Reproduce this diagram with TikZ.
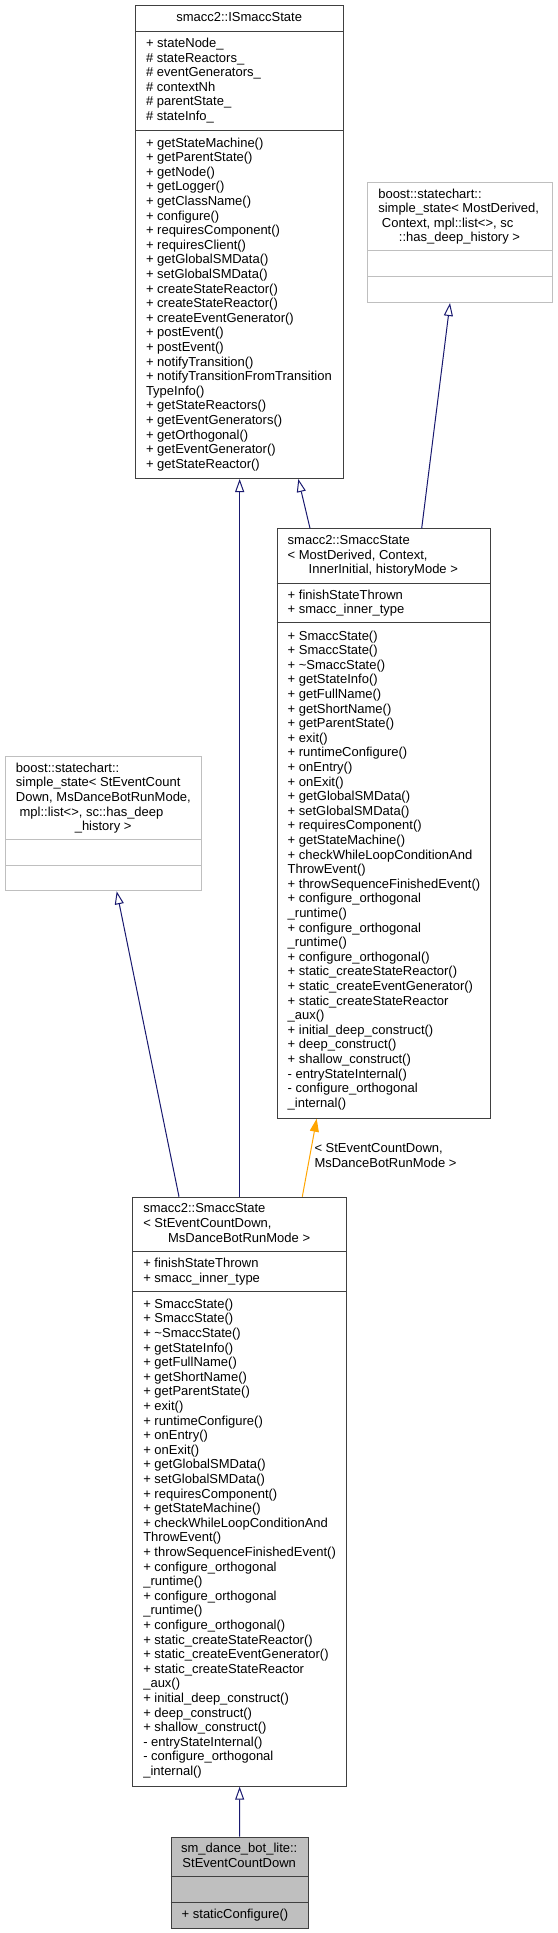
\documentclass[tikz,border=0pt]{standalone}
\usepackage{fontspec}
\setmainfont{Liberation Sans}
\usetikzlibrary{arrows.meta}
\definecolor{boxc}{HTML}{404040}
\definecolor{lgray}{HTML}{BFBFBF}
\definecolor{navy}{HTML}{191970}
\definecolor{orng}{HTML}{FFA500}
\newcommand\seclines[5]{%
  \foreach \x [count=\i from 0] in {#5} {\node[#4] (#1\i) at (#2, {#3+\i*14.6}) {\x};}%
}
\begin{document}
\begin{tikzpicture}[x=1pt,y=-1pt,
  txt/.style={inner sep=0pt, anchor=base west, font=\fontsize{13}{14.6}\selectfont},
  ctxt/.style={txt, anchor=base},
  box/.style={draw=boxc, line width=1pt, inner sep=0pt, anchor=north west, fill=white},
  gbox/.style={box, draw=lgray},
  sep/.style={draw=boxc, line width=1pt},
  gsep/.style={draw=lgray, line width=1pt},
  inh/.style={draw=navy, line width=1pt, -{Triangle[open, length=13pt, width=9pt, fill=white]}},
  tmpl/.style={draw=orng, line width=1pt, -{Triangle[length=13pt, width=9pt, fill=orng]}}
]
\path[use as bounding box, fill=white] (0,0) rectangle (557,1933);

% ---------- A: smacc2::ISmaccState
\node[box, minimum width=208.3pt, minimum height=473pt] (A) at (135,5) {};
\draw[sep] (135,31.7) -- (343.3,31.7);
\draw[sep] (135,130) -- (343.3,130);
\node[ctxt] (At) at (239.15,21.9) {smacc2::ISmaccState};
\seclines{Aa}{145.8}{47.5}{txt}{{+ stateNode\_},{\# stateReactors\_},{\# eventGenerators\_},{\# contextNh},{\# parentState\_},{\# stateInfo\_}}
\seclines{Am}{145.8}{147}{txt}{{+ getStateMachine()},{+ getParentState()},{+ getNode()},{+ getLogger()},{+ getClassName()},{+ configure()},{+ requiresComponent()},{+ requiresClient()},{+ getGlobalSMData()},{+ setGlobalSMData()},{+ createStateReactor()},{+ createStateReactor()},{+ createEventGenerator()},{+ postEvent()},{+ postEvent()},{+ notifyTransition()},{+ notifyTransitionFromTransition},{TypeInfo()},{+ getStateReactors()},{+ getEventGenerators()},{+ getOrthogonal()},{+ getEventGenerator()},{+ getStateReactor()}}

% ---------- C: boost simple_state (MostDerived)
\node[gbox, minimum width=184.4pt, minimum height=119.7pt] (C) at (367.3,182.3) {};
\draw[gsep] (367.3,250.7) -- (551.7,250.7);
\draw[gsep] (367.3,276.7) -- (551.7,276.7);
\node[txt] (Ct0) at (378.1,198.1) {boost::statechart::};
\node[txt] (Ct1) at (378.1,212.7) {simple\_state< MostDerived,};
\node[txt] (Ct2) at (378.1,227.3) {\ Context, mpl::list<>, sc};
\node[ctxt] (Ct3) at (459.5,241.9) {::has\_deep\_history >};

% ---------- B: smacc2::SmaccState< MostDerived, ... >
\node[box, minimum width=213.3pt, minimum height=589.4pt] (B) at (276.7,528.3) {};
\draw[sep] (276.7,583) -- (490,583);
\draw[sep] (276.7,622.7) -- (490,622.7);
\node[txt] (Bt0) at (287.5,544.6) {smacc2::SmaccState};
\node[txt] (Bt1) at (287.5,559.2) {< MostDerived, Context,};
\node[ctxt] (Bt2) at (383.35,573.8) {InnerInitial, historyMode >};
\seclines{Ba}{287.5}{599.3}{txt}{{+ finishStateThrown},{+ smacc\_inner\_type}}
\seclines{Bm}{287.5}{640}{txt}{{+ SmaccState()},{+ SmaccState()},{+ \textasciitilde SmaccState()},{+ getStateInfo()},{+ getFullName()},{+ getShortName()},{+ getParentState()},{+ exit()},{+ runtimeConfigure()},{+ onEntry()},{+ onExit()},{+ getGlobalSMData()},{+ setGlobalSMData()},{+ requiresComponent()},{+ getStateMachine()},{+ checkWhileLoopConditionAnd},{ThrowEvent()},{+ throwSequenceFinishedEvent()},{+ configure\_orthogonal},{\_runtime()},{+ configure\_orthogonal},{\_runtime()},{+ configure\_orthogonal()},{+ static\_createStateReactor()},{+ static\_createEventGenerator()},{+ static\_createStateReactor},{\_aux()},{+ initial\_deep\_construct()},{+ deep\_construct()},{+ shallow\_construct()},{- entryStateInternal()},{- configure\_orthogonal},{\_internal()}}

% ---------- D: boost simple_state (StEventCountDown)
\node[gbox, minimum width=196.3pt, minimum height=134.3pt] (D) at (5,756) {};
\draw[gsep] (5,839.3) -- (201.3,839.3);
\draw[gsep] (5,865) -- (201.3,865);
\node[txt] (Dt0) at (15.8,772.3) {boost::statechart::};
\node[txt] (Dt1) at (15.8,786.9) {simple\_state< StEventCount};
\node[txt] (Dt2) at (15.8,801.5) {Down, MsDanceBotRunMode,};
\node[txt] (Dt3) at (15.8,816.1) {\ mpl::list<>, sc::has\_deep};
\node[ctxt] (Dt4) at (103.15,830.7) {\_history >};

% ---------- E: smacc2::SmaccState< StEventCountDown, MsDanceBotRunMode >
\node[box, minimum width=213.7pt, minimum height=589pt] (E) at (132.3,1196.7) {};
\draw[sep] (132.3,1251) -- (346,1251);
\draw[sep] (132.3,1291) -- (346,1291);
\node[txt] (Et0) at (143.1,1212.8) {smacc2::SmaccState};
\node[txt] (Et1) at (143.1,1227.4) {< StEventCountDown,};
\node[ctxt] (Et2) at (239.15,1242) {MsDanceBotRunMode >};
\seclines{Ea}{143.1}{1267.4}{txt}{{+ finishStateThrown},{+ smacc\_inner\_type}}
\seclines{Em}{143.1}{1308.3}{txt}{{+ SmaccState()},{+ SmaccState()},{+ \textasciitilde SmaccState()},{+ getStateInfo()},{+ getFullName()},{+ getShortName()},{+ getParentState()},{+ exit()},{+ runtimeConfigure()},{+ onEntry()},{+ onExit()},{+ getGlobalSMData()},{+ setGlobalSMData()},{+ requiresComponent()},{+ getStateMachine()},{+ checkWhileLoopConditionAnd},{ThrowEvent()},{+ throwSequenceFinishedEvent()},{+ configure\_orthogonal},{\_runtime()},{+ configure\_orthogonal},{\_runtime()},{+ configure\_orthogonal()},{+ static\_createStateReactor()},{+ static\_createEventGenerator()},{+ static\_createStateReactor},{\_aux()},{+ initial\_deep\_construct()},{+ deep\_construct()},{+ shallow\_construct()},{- entryStateInternal()},{- configure\_orthogonal},{\_internal()}}

% ---------- F: sm_dance_bot_lite::StEventCountDown
\node[box, fill=lgray, minimum width=137pt, minimum height=91pt] (F) at (170.7,1836.7) {};
\draw[sep] (170.7,1876) -- (307.7,1876);
\draw[sep] (170.7,1902.3) -- (307.7,1902.3);
\node[ctxt] (Ft0) at (239.2,1852.6) {sm\_dance\_bot\_lite::};
\node[ctxt] (Ft1) at (239.2,1867.2) {StEventCountDown};
\node[txt] (Fm0) at (181.5,1918.5) {+ staticConfigure()};

% ---------- connectors
\draw[inh] (E.north) -- (A.south);
\draw[inh] ([xshift=33.3pt]B.north west) -- ([xshift=163.3pt]A.south west);
\draw[inh] ([xshift=145pt]B.north west) -- ([xshift=82.7pt]C.south west);
\draw[inh] ([xshift=46.7pt]E.north west) -- ([xshift=111.7pt]D.south west);
\draw[tmpl] ([xshift=170pt]E.north west) -- ([xshift=40pt]B.south west);
\draw[inh] (F.north) -- (E.south);
\node[txt] (L0) at (314.3,1152.8) {< StEventCountDown,};
\node[txt] (L1) at (314.3,1167.4) {MsDanceBotRunMode >};
\end{tikzpicture}
\end{document}
